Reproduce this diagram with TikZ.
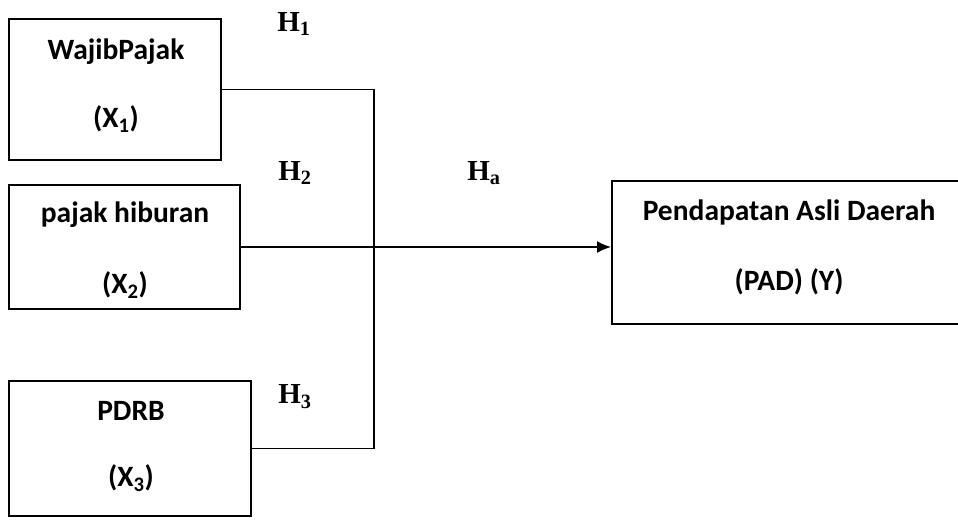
\documentclass[tikz,border=0pt]{standalone}
\usepackage{fontspec}
\setmainfont{Carlito}
\newfontfamily\hfont{Liberation Serif}
\usetikzlibrary{arrows.meta}
\begin{document}
\begin{tikzpicture}[x=1pt,y=-1pt,
  box/.style={draw, line width=1.9pt, inner sep=0pt, rectangle},
  lbl/.style={font=\fontsize{29.5}{32}\selectfont\bfseries, inner sep=0pt},
  hyp/.style={font=\hfont\fontsize{29}{32}\selectfont\bfseries, inner sep=0pt},
  conn/.style={line width=1.9pt}]
\useasboundingbox (0,0) rectangle (958,520);
\fill[white] (0,0) rectangle (958,520);
% boxes
\node[box, minimum width=212pt, minimum height=141pt] (b1) at (115,89.5) {};
\node[box, minimum width=231pt, minimum height=124pt] (b2) at (124.5,247) {};
\node[box, minimum width=242pt, minimum height=135pt] (b3) at (130,448.5) {};
\node[box, minimum width=354pt, minimum height=143pt] (by) at (789,252.5) {};
% box texts
\node[lbl] (t1a) at (116,52) {WajibPajak};
\node[lbl] (t1b) at (116,119) {(X\textsubscript{1})};
\node[lbl] (t2a) at (125,215) {pajak hiburan};
\node[lbl] (t2b) at (125,285) {(X\textsubscript{2})};
\node[lbl] (t3a) at (131,411) {PDRB};
\node[lbl] (t3b) at (131,478) {(X\textsubscript{3})};
\node[lbl] (tya) at (789,212) {Pendapatan Asli Daerah};
\node[lbl] (tyb) at (789,282) {(PAD) (Y)};
% hypothesis labels
\node[hyp] (h1) at (294,24) {H\textsubscript{1}};
\node[hyp] (h2) at (295,173) {H\textsubscript{2}};
\node[hyp] (ha) at (484,173) {H\textsubscript{a}};
\node[hyp] (h3) at (295,397) {H\textsubscript{3}};
% connectors
\coordinate (j) at (374,248);
\draw[conn] (b1.east) -- (b1.east -| j) -- (b3.east -| j) -- (b3.east);
\draw[conn, -{Latex[length=14pt,width=12pt]}] (b2.east) -- (b2.east -| by.west);
\end{tikzpicture}
\end{document}
